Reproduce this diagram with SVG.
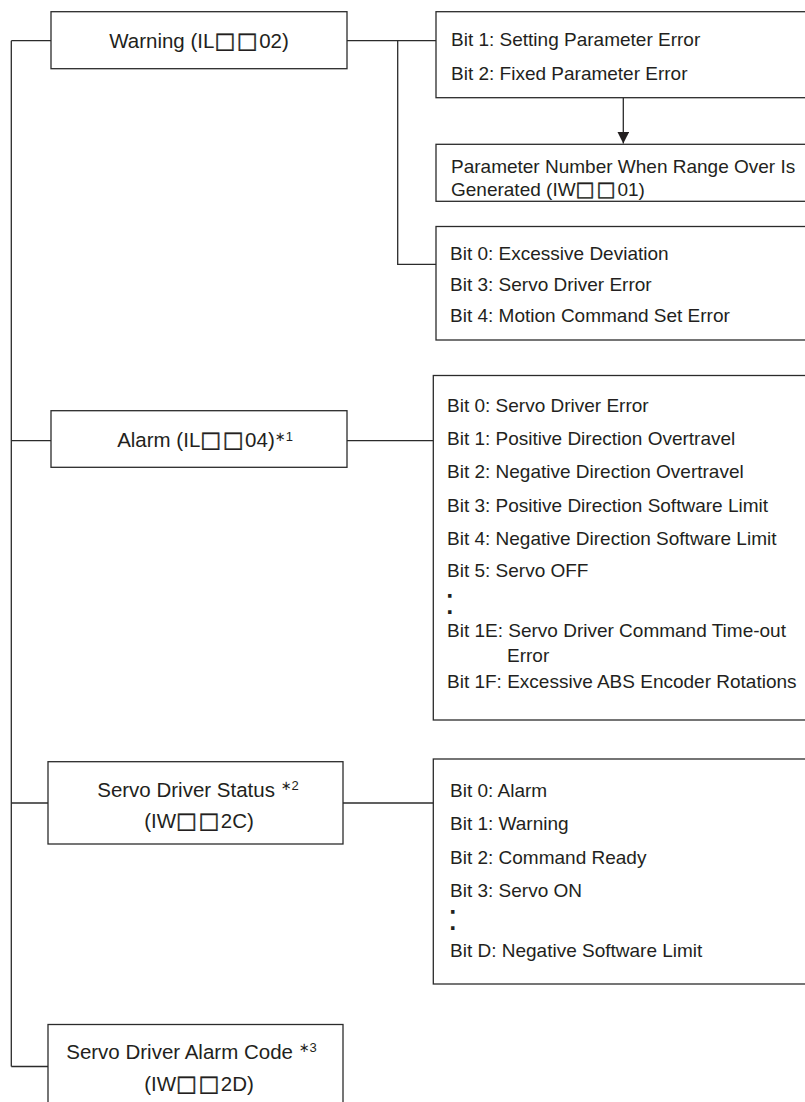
<svg xmlns="http://www.w3.org/2000/svg" width="805" height="1102" viewBox="0 0 805 1102">
  <defs>
    <style>
      .box { fill: #ffffff; stroke: #2b2b2b; stroke-width: 1.3; }
      .ln { fill: none; stroke: #2b2b2b; stroke-width: 1.3; }
      .lbl { font-family: "Liberation Sans", Arial, "DejaVu Sans", sans-serif; font-size: 20.5px; fill: #231f20; text-anchor: middle; }
      .lst { font-family: "Liberation Sans", Arial, "DejaVu Sans", sans-serif; font-size: 19px; fill: #231f20; }
      .sq { font-family: "DejaVu Sans", sans-serif; font-size: 1.08em; letter-spacing: 1.5px; stroke: #231f20; stroke-width: 0.4; }
      .sup { font-family: "Liberation Sans", "DejaVu Sans", sans-serif; font-size: 13px; }
      .dots { font-family: "Liberation Sans", Arial, sans-serif; font-size: 36px; fill: #231f20; }
    </style>
    <marker id="arrow" markerWidth="12" markerHeight="12" refX="12" refY="6" orient="auto" markerUnits="userSpaceOnUse" viewBox="0 0 12 12">
      <path d="M0,0 L12,6 L0,12 Z" fill="#231f20"/>
    </marker>
  </defs>
  <rect x="0" y="0" width="805" height="1102" fill="#ffffff"/>

  <g id="connectors">
    <path class="ln" d="M11.3,40.7 V1066.5"/>
    <path class="ln" d="M11.3,40.7 H51"/>
    <path class="ln" d="M11.3,440.7 H51"/>
    <path class="ln" d="M11.3,803 H48"/>
    <path class="ln" d="M11.3,1066.5 H48"/>
    <path class="ln" d="M347,40.7 H436"/>
    <path class="ln" d="M397.7,40.7 V264.3 H436"/>
    <path class="ln" d="M347,440.7 H433.3"/>
    <path class="ln" d="M343,803 H433.3"/>
    <path class="ln" d="M623.3,97.7 V143.6" marker-end="url(#arrow)"/>
  </g>

  <g id="warning">
    <rect class="box" x="51" y="11.7" width="296" height="57"/>
    <text class="lbl" x="199" y="48.3">Warning (IL<tspan class="sq">□□</tspan>02)</text>
  </g>

  <g id="warning-bits-1-2">
    <rect class="box" x="436" y="11.7" width="380" height="86"/>
    <text class="lst" x="451" y="45.7">Bit 1: Setting Parameter Error</text>
    <text class="lst" x="451" y="80">Bit 2: Fixed Parameter Error</text>
  </g>

  <g id="parameter-number">
    <rect class="box" x="436" y="144.3" width="380" height="57"/>
    <text class="lst" x="451" y="173">Parameter Number When Range Over Is</text>
    <text class="lst" x="451" y="196">Generated (IW<tspan class="sq">□□</tspan>01)</text>
  </g>

  <g id="warning-bits-0-3-4">
    <rect class="box" x="436" y="226.5" width="380" height="113.5"/>
    <text class="lst" x="450" y="260">Bit 0: Excessive Deviation</text>
    <text class="lst" x="450" y="291">Bit 3: Servo Driver Error</text>
    <text class="lst" x="450" y="322">Bit 4: Motion Command Set Error</text>
  </g>

  <g id="alarm">
    <rect class="box" x="51" y="410.7" width="296" height="56.6"/>
    <text class="lbl" x="205" y="447.3">Alarm (IL<tspan class="sq">□□</tspan>04)<tspan class="sup" dy="-6">∗1</tspan></text>
  </g>

  <g id="alarm-bits">
    <rect class="box" x="433.3" y="375.5" width="380" height="344.5"/>
    <text class="lst" x="447" y="411.7">Bit 0: Servo Driver Error</text>
    <text class="lst" x="447" y="445">Bit 1: Positive Direction Overtravel</text>
    <text class="lst" x="447" y="478.3">Bit 2: Negative Direction Overtravel</text>
    <text class="lst" x="447" y="511.7">Bit 3: Positive Direction Software Limit</text>
    <text class="lst" x="447" y="545">Bit 4: Negative Direction Software Limit</text>
    <text class="lst" x="447" y="577">Bit 5: Servo OFF</text>
    <text class="dots" x="444.7" y="614">:</text>
    <text class="lst" x="447" y="637">Bit 1E: Servo Driver Command Time-out</text>
    <text class="lst" x="507" y="662">Error</text>
    <text class="lst" x="447" y="688">Bit 1F: Excessive ABS Encoder Rotations</text>
  </g>

  <g id="servo-driver-status">
    <rect class="box" x="48" y="761.7" width="295" height="82.3"/>
    <text class="lbl" x="198" y="797">Servo Driver Status <tspan class="sup" dy="-7">∗2</tspan></text>
    <text class="lbl" x="199" y="828">(IW<tspan class="sq">□□</tspan>2C)</text>
  </g>

  <g id="status-bits">
    <rect class="box" x="433.3" y="759" width="380" height="225"/>
    <text class="lst" x="450" y="796.7">Bit 0: Alarm</text>
    <text class="lst" x="450" y="830">Bit 1: Warning</text>
    <text class="lst" x="450" y="863.5">Bit 2: Command Ready</text>
    <text class="lst" x="450" y="896.7">Bit 3: Servo ON</text>
    <text class="dots" x="447.7" y="930">:</text>
    <text class="lst" x="450" y="957">Bit D: Negative Software Limit</text>
  </g>

  <g id="servo-driver-alarm-code">
    <rect class="box" x="48" y="1024.5" width="295" height="90"/>
    <text class="lbl" x="191.5" y="1059">Servo Driver Alarm Code <tspan class="sup" dy="-7">∗3</tspan></text>
    <text class="lbl" x="199" y="1091">(IW<tspan class="sq">□□</tspan>2D)</text>
  </g>
</svg>
